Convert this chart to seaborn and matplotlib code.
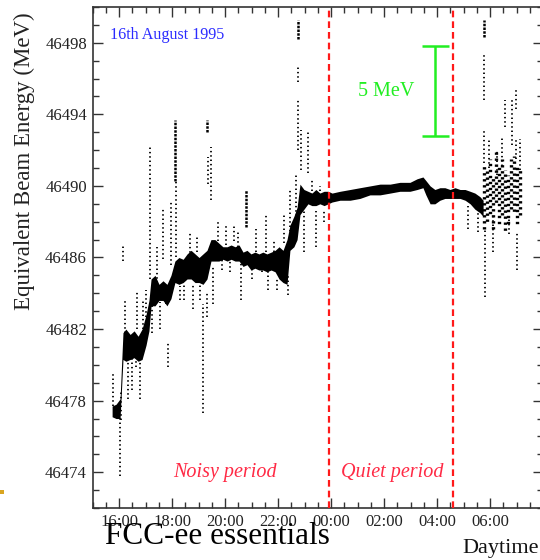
import matplotlib
matplotlib.use("Agg")
import matplotlib.pyplot as plt
import seaborn as sns
from matplotlib.ticker import MultipleLocator, FixedLocator
from matplotlib.patches import Rectangle

# Dense core of the beam-energy record.
# Time in clock hours; after midnight the clock continues as 24+.
core_time = [15.74, 15.89, 16.04,
             16.15, 16.26, 16.42, 16.57, 16.72, 16.87, 17.02, 17.13,
             17.21, 17.36, 17.51, 17.66, 17.81, 17.96,
             18.11, 18.26, 18.42, 18.57, 18.72, 18.87, 19.02, 19.17, 19.32,
             19.47, 19.62, 19.77, 19.92, 20.08, 20.23, 20.38, 20.53, 20.68,
             20.83, 20.98, 21.13, 21.28, 21.43, 21.58, 21.74, 21.89, 22.04,
             22.19, 22.34, 22.45, 22.60, 22.72, 22.83, 22.98, 23.13, 23.28,
             23.43, 23.58, 23.74, 23.89,
             24.04, 24.34, 24.72, 25.09, 25.47, 25.85, 26.23, 26.60, 26.98,
             27.25, 27.47, 27.58, 27.74, 27.92, 28.11, 28.30, 28.49, 28.68,
             28.87, 29.06, 29.25, 29.43, 29.62, 29.74]
core_low = [46477.1, 46477.0, 46477.0,
            46480.3, 46480.2, 46480.3, 46480.4, 46480.2, 46480.3, 46481.1, 46481.9,
            46483.3, 46483.3, 46483.6, 46483.6, 46483.3, 46483.7,
            46484.6, 46484.5, 46484.6, 46484.8, 46484.8, 46484.6, 46484.6, 46484.5, 46484.8,
            46485.8, 46485.8, 46485.8, 46485.9, 46485.8, 46485.9, 46485.8, 46485.8, 46485.5,
            46485.6, 46485.3, 46485.4, 46485.3, 46485.3, 46485.2, 46485.3, 46485.2, 46484.8,
            46484.6, 46484.5, 46486.4, 46486.6, 46487.0, 46488.4, 46488.7, 46489.0, 46488.9,
            46488.9, 46489.0, 46488.9, 46489.0,
            46489.1, 46489.2, 46489.2, 46489.3, 46489.5, 46489.5, 46489.6, 46489.7, 46489.7,
            46489.8, 46489.9, 46489.5, 46489.0, 46489.0, 46489.2, 46489.3, 46489.3, 46489.3,
            46489.3, 46489.2, 46489.0, 46488.7, 46488.5, 46488.3]
core_high = [46477.7, 46477.8, 46478.1,
             46481.8, 46482.0, 46481.7, 46481.9, 46481.6, 46482.0, 46482.8, 46483.6,
             46484.8, 46485.0, 46484.5, 46484.7, 46484.5, 46485.0,
             46485.8, 46486.0, 46485.9, 46486.2, 46486.4, 46486.2, 46486.0, 46486.2, 46486.4,
             46487.0, 46487.0, 46486.8, 46486.6, 46486.6, 46486.7, 46486.6, 46486.7, 46486.3,
             46486.4, 46486.2, 46486.3, 46486.2, 46486.3, 46486.2, 46486.3, 46486.4, 46486.6,
             46486.4, 46487.0, 46487.8, 46488.3, 46488.8, 46490.1, 46489.8, 46489.7, 46489.6,
             46489.8, 46489.6, 46489.7, 46489.7,
             46489.6, 46489.7, 46489.8, 46489.9, 46490.0, 46490.1, 46490.1, 46490.2, 46490.2,
             46490.4, 46490.5, 46490.3, 46490.0, 46489.8, 46489.9, 46489.9, 46489.8, 46489.9,
             46489.8, 46489.8, 46489.7, 46489.6, 46489.4, 46489.2]

# Sparse vertical streaks of single readings
streak_time = [15.77, 16.04, 16.08, 16.15, 16.23, 16.34, 16.49, 16.64, 16.68, 16.79,
               16.91, 17.02, 17.17, 17.25, 17.43, 17.55, 17.66, 17.77, 17.85, 17.96,
               18.15, 18.30, 18.45, 18.68, 18.79, 18.94, 19.06, 19.17, 19.36, 19.32,
               19.47, 19.55, 19.74, 19.89, 20.04, 20.19, 20.34, 20.49, 20.60, 21.02,
               21.17, 21.40, 21.55, 21.62, 21.85, 21.96, 22.23, 22.38, 22.45, 22.68,
               22.75, 22.75, 22.87, 22.98, 23.13, 23.28, 23.43, 23.58, 23.74,
               29.17, 29.55, 29.77, 29.77, 29.81, 29.96, 30.11, 30.26, 30.45, 30.57,
               30.72, 30.83, 30.98, 30.98, 31.02, 31.13]
streak_low = [46477.7, 46473.8, 46476.9, 46485.8, 46481.8, 46478.1, 46478.6, 46479.9, 46482.0, 46478.1,
              46482.0, 46482.7, 46484.8, 46481.8, 46484.6, 46482.0, 46485.9, 46483.4, 46479.9, 46485.6,
              46486.0, 46483.6, 46483.6, 46486.0, 46483.1, 46486.3, 46483.6, 46477.3, 46490.1, 46482.7,
              46489.2, 46483.4, 46486.9, 46485.3, 46486.7, 46485.2, 46486.9, 46486.6, 46483.6, 46484.8,
              46486.3, 46485.2, 46486.3, 46484.2, 46486.3, 46484.2, 46486.8, 46483.9, 46487.0, 46488.3,
              46495.8, 46492.0, 46490.9, 46486.3, 46490.7, 46489.0, 46486.6, 46489.0, 46488.0,
              46487.6, 46487.4, 46494.8, 46491.3, 46483.8, 46491.0, 46486.3, 46490.6, 46491.1, 46493.3,
              46487.3, 46492.3, 46494.3, 46491.5, 46485.3, 46490.9]
streak_high = [46479.6, 46477.1, 46478.6, 46486.7, 46483.6, 46480.3, 46480.3, 46480.6, 46484.2, 46480.3,
               46483.6, 46484.2, 46492.2, 46483.4, 46486.6, 46483.5, 46488.8, 46484.6, 46481.2, 46489.2,
               46490.3, 46484.4, 46484.6, 46487.4, 46484.5, 46487.2, 46484.5, 46483.4, 46491.6, 46484.1,
               46492.2, 46485.5, 46488.0, 46486.1, 46487.8, 46485.9, 46487.8, 46487.5, 46485.9, 46485.7,
               46487.6, 46485.8, 46488.5, 46485.3, 46487.0, 46484.8, 46488.5, 46485.0, 46489.8, 46490.6,
               46496.7, 46494.8, 46493.1, 46488.6, 46493.1, 46490.4, 46488.6, 46490.0, 46488.6,
               46488.9, 46488.6, 46497.4, 46493.1, 46487.6, 46492.6, 46488.5, 46492.0, 46492.7, 46494.8,
               46488.2, 46494.8, 46495.5, 46492.6, 46487.4, 46492.6]

# Short, densely sampled excursions
burst_time = [18.11, 19.32, 20.79, 22.75, 29.77]
burst_low = [46490.3, 46493.0, 46487.7, 46498.2, 46498.3]
burst_high = [46493.7, 46493.7, 46489.8, 46499.3, 46499.3]

# Scattered readings after the quiet period
cloud_time = [29.77, 29.89, 30.00, 30.11, 30.23, 30.34, 30.45, 30.57, 30.68,
              30.79, 30.91, 31.02, 31.13]
cloud_low = [46487.6, 46487.8, 46488.4, 46487.6, 46488.9, 46487.8, 46488.4, 46487.3,
             46487.8, 46488.7, 46488.4, 46487.8, 46488.4]
cloud_high = [46491.2, 46490.9, 46491.5, 46490.6, 46492.0, 46491.2, 46491.5, 46490.9,
              46490.6, 46491.5, 46491.7, 46491.2, 46490.9]

x_ticks = [16, 18, 20, 22, 24, 26, 28, 30]
x_labels = ["16:00", "18:00", "20:00", "22:00", "00:00", "02:00", "04:00", "06:00"]
y_ticks = [46474, 46478, 46482, 46486, 46490, 46494, 46498]

period_bounds = [23.92, 28.60]
period_names = ["Noisy period", "Quiet period"]
period_text_x = [20.0, 26.3]
scale_bar_low, scale_bar_high = 46492.8, 46497.8
scale_bar_x = 27.92

sns.set_theme(style="ticks")
plt.rcParams["font.family"] = ["Liberation Serif", "DejaVu Serif"]

fig = plt.figure(figsize=(5.4, 5.6), dpi=100)
ax = fig.add_axes([92.5 / 540, 52 / 560, 450.5 / 540, 501 / 560])
ax.set_xlim(15, 32)
ax.set_ylim(46472, 46500)

# energy record: dense core, sparse streaks, short bursts and the late cloud
ax.fill_between(core_time, core_low, core_high, color="black", linewidth=0)
ax.vlines(streak_time, streak_low, streak_high, colors="black", linewidth=1.3,
          linestyles=[(0, (0.8, 1.6))])
ax.vlines(burst_time, burst_low, burst_high, colors="black", linewidth=1.8,
          linestyles=[(0, (1.0, 0.5))])
for i, (t, lo, hi) in enumerate(zip(cloud_time, cloud_low, cloud_high)):
    ax.vlines([t], [lo], [hi], colors="black", linewidth=2.4,
              linestyles=[((i % 3) * 0.7, (0.7, 1.1))])

# period boundaries
for xb in period_bounds:
    ax.axvline(xb, color="#ff1a1a", linewidth=1.6, linestyle=(0, (3, 1.8)), zorder=3)
for name, xt in zip(period_names, period_text_x):
    ax.text(xt, 46474.0, name, color="#ff2a45", fontsize=14.5, style="italic",
            ha="center", va="center")

# 5 MeV scale bar
bar_col = "#22ee22"
ax.vlines([scale_bar_x], [scale_bar_low], [scale_bar_high], colors=bar_col, linewidth=1.8)
ax.hlines([scale_bar_low, scale_bar_high], scale_bar_x - 0.49, scale_bar_x + 0.53,
          colors=bar_col, linewidth=1.8)
ax.text(26.08, 46495.3, "5 MeV", color=bar_col, fontsize=14.5, ha="center", va="center")

ax.text(15.66, 46498.45, "16th August 1995", color="#2a2aff", fontsize=11.6,
        ha="left", va="center")

# axes styling
ax.xaxis.set_major_locator(FixedLocator(x_ticks))
ax.set_xticklabels(x_labels)
ax.xaxis.set_minor_locator(MultipleLocator(0.5))
ax.yaxis.set_major_locator(FixedLocator(y_ticks))
ax.yaxis.set_minor_locator(MultipleLocator(1))
ax.tick_params(which="both", direction="in", top=True, right=True,
               colors="#333333", labelcolor="#222222", labelsize=12, width=1.0)
ax.tick_params(which="major", length=7, pad=4)
ax.tick_params(which="minor", length=4.5)
for sp in ax.spines.values():
    sp.set_color("#333333")
    sp.set_linewidth(1.2)

ax.set_ylabel("Equivalent Beam Energy (MeV)", fontsize=16.5, color="#222222")
ax.yaxis.set_label_coords(-0.127, 0.693)

fig.text(217 / 540, 1 - 537 / 560, "FCC-ee essentials", fontsize=22.5,
         color="black", ha="center", va="center")
fig.text(462 / 540, 1 - 549 / 560, "Daytime", fontsize=16, color="#111111",
         ha="left", va="center")
fig.add_artist(Rectangle((0, 1 - 494 / 560), 4 / 540, 4 / 560,
                         transform=fig.transFigure, color="#d9a520", linewidth=0))

fig.savefig("out.png", dpi=100)
